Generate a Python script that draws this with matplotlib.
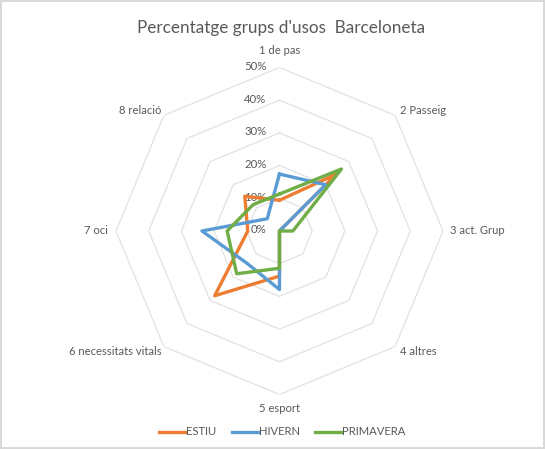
import numpy as np
import matplotlib.pyplot as plt

categories = ['1 de pas', '2 Passeig', '3 act. Grup', '4 altres',
              '5 esport', '6 necessitats vitals', '7 oci', '8 relació']
estiu = [9.4, 24.6, 0.0, 0.0, 13.8, 28.0, 9.7, 15.0]
hivern = [17.4, 20.0, 0.0, 0.0, 17.9, 14.0, 23.7, 5.3]
primavera = [11.3, 26.8, 4.1, 0.0, 11.4, 18.5, 16.0, 11.4]
series_names = ['ESTIU', 'HIVERN', 'PRIMAVERA']
colors = ['#ED7D31', '#5B9BD5', '#70AD47']
rticks = [0, 10, 20, 30, 40, 50]

plt.rcParams['font.family'] = ['Lato', 'DejaVu Sans']
txt = '#595959'

fig = plt.figure(figsize=(5.45, 4.49), dpi=100)
fig.patch.set_edgecolor('#d9d9d9')
fig.patch.set_linewidth(1.5)
ax = fig.add_axes([0.2128, 0.1214, 0.6, 0.7283], projection='polar')
ax.set_theta_zero_location('N')
ax.set_theta_direction(-1)
ax.set_ylim(0, 50)
ax.grid(False)
ax.spines['polar'].set_visible(False)
ax.set_xticks([])
ax.set_yticks([])
ax.patch.set_alpha(0)

n = len(categories)
theta = np.linspace(0, 2 * np.pi, n, endpoint=False)
theta_c = np.append(theta, theta[0])

# octagon grid
for r in rticks[1:]:
    ax.plot(theta_c, [r] * (n + 1), color='#e2e2e2', lw=0.9, zorder=1)
for r in rticks:
    ax.annotate(f'{r}%', xy=(0, r), xytext=(-13, 1), textcoords='offset pixels',
                ha='right', va='center', fontsize=8.2, color=txt)

for vals, name, c in zip([estiu, hivern, primavera], series_names, colors):
    ax.plot(theta_c, vals + vals[:1], color=c, lw=2.4, label=name, zorder=3)

# category labels
offs = [(0, 17, 'center'), (5, 5, 'left'), (7, 0, 'left'), (5, -5, 'left'),
        (0, -14, 'center'), (-2, -5, 'right'), (-8, 0, 'right'), (-2, 5, 'right')]
for t, lab, (dx, dy, ha) in zip(theta, categories, offs):
    ax.annotate(lab, xy=(t, 50), xytext=(dx, dy), textcoords='offset pixels',
                ha=ha, va='center', fontsize=8.1, color=txt)

fig.text(0.515, 0.937, "Percentatge grups d'usos  Barceloneta", ha='center',
         va='center', fontsize=12.3, color=txt)
fig.legend(loc='center', bbox_to_anchor=(0.518, 0.038), ncol=3, frameon=False,
           fontsize=8.1, handlelength=2.3, columnspacing=1.4, handletextpad=0.1,
           labelcolor=txt)

fig.savefig('out.png', dpi=100)
